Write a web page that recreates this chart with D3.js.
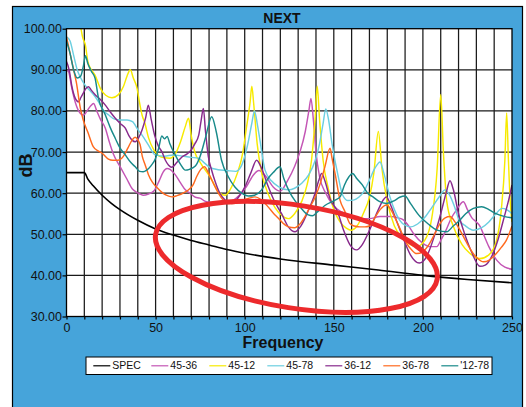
<!DOCTYPE html>
<html>
<head>
<meta charset="utf-8">
<script src="https://cdn.jsdelivr.net/npm/d3@7"></script>
<style>
  html, body { margin: 0; padding: 0; background: #fff; }
  svg { display: block; font-family: Arial, "Liberation Sans", Helvetica, sans-serif; }
</style>
</head>
<body>
<svg id="chart" width="526" height="407"></svg>
<script>
// values, [frequency, dB]
const spec = [[0,65],[10,65],[12,63.4],[15,61.8],[20,59.5],[25,57.6],[30,56],[40,53.4],[50,51.3],[60,49.8],[70,48.5],[80,47.4],[90,46.3],[100,45.4],[120,44],[150,42.5],[175,41.3],[200,40],[225,39],[250,38.2]]

const s4536 = [[0,90],[1.2,89.5],[3,85.5],[5,82],[7.8,79.4],[9.6,79],[11.5,80],[13.5,81.2],[15.2,81.8],[17,80],[19,78],[21.8,75.8],[24,72.5],[26.3,69.5],[30,66.5],[33.8,63.5],[37,61],[39.4,60.2],[41.2,59.8],[43.1,59.5],[46,59.8],[49,60.5],[52,63],[54.3,65.2],[56.4,66],[58.1,65.8],[61,64.5],[64,62.5],[66.7,60.8],[69.3,60],[72.3,59],[74.9,58.8],[78,58],[82.4,57.7],[85,57.4],[89,57.7],[93.6,58.3],[97,59.5],[101,61.6],[105,64.5],[108,65.5],[112,64],[116,61.5],[120,60.5],[124,63],[128,66.5],[131,70],[134,75],[136,80],[137.2,83],[138.5,78],[140,70],[142,64],[145.5,60],[149.7,57],[154,55.5],[157,55],[161,54],[165,53.8],[170,53.8],[176,54.3],[181.5,54.3],[186,54],[189,53.5],[192,52],[195,50],[200,47.8],[204,47],[207.8,47],[210,48.5],[213,51],[216,54],[219,56],[222.7,57.9],[225,56],[227.5,54],[230,53],[232,52],[234,50],[237,47],[241.4,43.7],[246,42],[250,41.5]]

const s4512 = [[0,112],[4,108],[7,103],[9,98],[10.6,96],[12,92],[14,90],[16,88.7],[19,85.5],[22,83.8],[25.5,83.2],[29,83.9],[32,86],[34,88.5],[35.8,90],[37.5,88],[39.6,85.5],[41,82],[42.4,79],[44,77],[46,73.5],[49,70.5],[52,69],[55,68.6],[58,68.5],[61,69.5],[64,72.5],[66.5,76],[68.5,78.2],[70,74],[72,70],[75,67.5],[80.5,64],[86,60],[89,59.5],[92,61],[96,65],[99,70],[101,76],[103,82],[104,86],[105,82],[107,72],[109.5,65],[113,60],[117,56.5],[121,54.5],[124.5,53.8],[128,55],[132,58],[135,62],[137.5,68],[139.5,78],[140.7,86],[142,78],[144,68],[147,61],[150,56],[153.5,53],[157,51.5],[160,51],[163,52],[167,55.5],[170,59],[172.5,65],[175,75],[177,66],[180,58],[184,52],[189,49],[196.5,47],[201,48.5],[205,54],[208,66],[210,84],[211.5,70],[213.4,58],[217,52],[222,47.5],[226,45.5],[232,44.1],[237,45],[241,48],[244,56],[246,68],[247,79.5],[248,68],[249,58],[250,53]]

const s4578 = [[0,98],[2,97],[4,93.5],[6,90],[8,88],[10,86.5],[13,85],[16,83.5],[18,82.2],[21,80],[23.7,79],[27,78],[30,77.8],[34,77.8],[37,77.4],[40,75.5],[42.4,74.1],[46,71.7],[49.8,69.3],[55,69],[60,69.3],[65,69],[70,68.7],[74,68.5],[77,67.5],[80,66.4],[85,65.7],[90,65.5],[95,65.3],[98,66.5],[100,68.9],[102,72.5],[104,77],[105.5,80],[107,77],[108.6,72.8],[111.4,65.6],[115,63],[118.9,61.6],[124.5,60.8],[128,61.2],[132,62.4],[136,64.5],[139.5,67.9],[142,72],[144,77],[145.5,80.5],[147,78],[149,72],[152.5,64],[155,59.5],[158,58.2],[161,58.3],[164,59],[167,60.5],[170,63.2],[173,66],[176,67.6],[178,65],[181.5,59.1],[184,56],[187,53.4],[190,52.2],[193,51.8],[197,52.5],[201.6,54.4],[205,56.5],[209,59],[212.4,60.8],[215,59.5],[217.5,57],[220.4,53.4],[224,52],[228.3,51],[233,51.6],[237,53],[241,55],[244.5,56.3],[247,56],[250,55]]

const s3612 = [[0,92],[1.5,90],[3,86],[5,83],[6.8,82.2],[8,83.2],[9.5,84.4],[11,85.5],[12.4,85.9],[14,85],[16.2,83.9],[19,82.8],[21.8,81.4],[24.5,79.8],[27.4,78.2],[30,77],[33,75.8],[35,74],[36.8,72.9],[38.6,72.5],[40.5,73.5],[42.5,75.5],[44.5,78.5],[45.9,81.4],[47.5,78],[49.5,74],[51.5,71.5],[53.6,70],[55.5,68],[57.3,66.8],[59,66.3],[62,67.5],[64.8,68.8],[67.5,69.5],[70,70.5],[72,72],[74.2,74.1],[75.5,77.5],[76.8,80.6],[78,75],[79.6,68.9],[81.5,65.5],[83.5,62.7],[86,60],[89,58.3],[92.8,57.5],[96.5,59],[100.2,61.6],[103.5,65],[106.7,68],[109.5,66],[113.2,61.6],[116.5,58.2],[120.7,55],[124.5,51.8],[128.2,50.6],[131.5,52],[135.8,55.9],[139.5,60],[141.5,63],[143.2,64.8],[145,63],[148,58.5],[152,55.6],[155.5,51],[159,47.5],[162.8,46.2],[166,47.5],[169,50],[172,53],[175,56],[178,58.5],[179.5,59.1],[182,57],[185,53.5],[189,49],[193,45],[198,43],[202,44.5],[206,49],[210,55],[213,60],[215.2,63],[217,61],[220,55],[223.5,50],[227.5,45.5],[232,42.2],[235,42.5],[238.5,44.5],[242,48.5],[245.5,54],[248.5,59],[250,62]]

const s3678 = [[0,98],[2,94],[4,90],[5.5,87],[7.8,80.6],[9.4,77.8],[12,74.8],[15,71.3],[18,70.2],[20,69.7],[23.5,68.3],[26,68],[28.8,68],[32,69],[34.5,71],[36.8,72.9],[38.5,73.6],[40,73],[41.3,71.8],[42.5,69],[44.2,66.8],[46,64.5],[48,62.8],[50.5,61.5],[53.6,60.2],[56,59.5],[59.2,59.1],[62,59.4],[64.5,59.8],[66.7,60.3],[69,61],[71,62],[73,64],[75.8,66],[77.5,66.4],[79,65.5],[81.5,63.2],[85.2,60],[88,58.3],[90.8,57.5],[94,57.5],[98.3,58.2],[102,58.7],[105.8,59.1],[109,58.5],[113.3,56.6],[116,55.2],[118.9,53.9],[121.5,52.7],[124.5,51.8],[128,51.6],[131,52.5],[133.8,54.3],[136.5,56.5],[139.5,59],[142.5,62.5],[145,66.4],[147.9,70.9],[149,68.5],[150.7,64.8],[153.5,58.3],[156.3,55.5],[159,52.6],[161.5,52],[164.5,51.8],[167.5,51.8],[170,52],[173,54],[176,56],[179.7,57.1],[182,56],[185,53.4],[188,50.5],[190.9,47.8],[193.5,46.3],[196.5,45.3],[200,45.8],[203.8,47.8],[206.5,50],[209.6,52.6],[212.5,54],[215.2,54.3],[218,53],[220.8,51],[224.5,48],[228.3,45.3],[231,44],[234,43.3],[237.5,43.8],[241.2,45.3],[244,46.8],[246.8,48.5],[250,52]]

const s1278 = [[0,97],[2,94],[4,90],[6,88],[8,88.5],[9.5,91],[10.6,93.4],[12,91.5],[14,89.6],[16,88],[18,83],[21.8,79],[24.5,76],[27.4,73.3],[30,71],[33,69.3],[36,67.5],[38.6,66.4],[41,65.3],[43,65.2],[45,65.6],[47.5,66.7],[50,68.5],[51.7,70.9],[53.5,73.9],[55,73.2],[56.5,73.8],[58,72],[61,69.3],[64,67],[66.7,65.6],[69,65.8],[72.3,66.6],[75,69],[78,73.5],[81.5,78.6],[84,75],[87,68],[90.8,64],[94.5,61.5],[98.3,60],[102,59.3],[105.5,59.5],[109.5,60.8],[113,63.5],[116,65],[119.8,66.4],[122,63.5],[125.5,60],[128.5,58],[131,56.7],[135.7,54.7],[138,54.5],[141,55.5],[145,57],[150.7,58.3],[153.5,59.1],[156,62],[158.5,64],[160.5,64.8],[163,63.5],[166,62],[169,60],[172,59.1],[175.5,58],[179.5,57.5],[184,58.2],[187,59],[190,59.3],[193,57.5],[198.4,54.3],[203,52.5],[208,51],[213.4,50.6],[217,52],[220.4,53.3],[224,55],[228.3,56.3],[233,56.7],[237,56],[241,55],[246,54.3],[250,54]]

const seriesNames = ['SPEC', '45-36', '45-12', '45-78', '36-12', '36-78', "'12-78"]
const seriesValues = [spec, s4536, s4512, s4578, s3612, s3678, s1278]
const seriesColors = ['#000000', '#c455b5', '#f7ea00', '#6ccfe0', '#882a8c', '#ff6a1f', '#188a8a']

const xTicks = [0, 50, 100, 150, 200, 250]
const yTicks = [30, 40, 50, 60, 70, 80, 90, 100]

// the red highlight ellipse, in data units
const ellipseCenter = [129, 44.5]
const ellipseHalfSize = [80, 12.5]

const svg = d3.select('#chart')

const plot = {left: 66.5, right: 512, top: 28.7, bottom: 316.5}
const x = d3.scaleLinear().domain([0, 250]).range([plot.left, plot.right])
const y = d3.scaleLinear().domain([30, 100]).range([plot.bottom, plot.top])

// blue panel
svg.append('rect')
    .attr('x', 12.5).attr('y', 6.5)
    .attr('width', 510).attr('height', 420)
    .attr('fill', '#46a4da')
    .attr('stroke', '#000').attr('stroke-width', 1.2)

svg.append('rect')
    .attr('x', plot.left).attr('y', plot.top)
    .attr('width', plot.right - plot.left).attr('height', plot.bottom - plot.top)
    .attr('fill', '#fff')

// grid
svg.append('g').selectAll('line')
    .data(d3.range(10, 250, 10))
    .enter().append('line')
    .attr('x1', d => x(d)).attr('x2', d => x(d))
    .attr('y1', plot.top).attr('y2', plot.bottom)
    .attr('stroke', '#1a1a1a').attr('stroke-width', 1.25)

svg.append('g').selectAll('line')
    .data(d3.range(40, 100, 10))
    .enter().append('line')
    .attr('x1', plot.left).attr('x2', plot.right)
    .attr('y1', d => y(d)).attr('y2', d => y(d))
    .attr('stroke', '#1a1a1a').attr('stroke-width', 1.25)

// axes
svg.append('g')
    .attr('transform', `translate(${plot.left},0)`)
    .call(d3.axisLeft(y).tickValues(yTicks).tickFormat(d3.format('.2f')).tickSize(4).tickPadding(0.5))
svg.append('g')
    .attr('transform', `translate(0,${plot.bottom})`)
    .call(d3.axisBottom(x).tickValues(d3.range(0, 251, 10))
        .tickFormat(d => xTicks.includes(d) ? d : '').tickSize(3).tickPadding(4))
svg.selectAll('.domain').remove()
svg.selectAll('.tick line').attr('stroke', '#000').attr('stroke-width', 1.2)
svg.selectAll('.tick text')
    .attr('fill', '#111')
    .style('font-size', '12.5px')
    .style('font-family', 'Arial, "Liberation Sans", sans-serif')

// series
svg.append('clipPath').attr('id', 'clip')
  .append('rect')
    .attr('x', plot.left).attr('y', plot.top)
    .attr('width', plot.right - plot.left).attr('height', plot.bottom - plot.top)

const line = d3.line()
    .x(d => x(d[0]))
    .y(d => y(d[1]))
    .curve(d3.curveMonotoneX)

svg.append('g')
    .attr('clip-path', 'url(#clip)')
  .selectAll('path')
  .data(seriesValues)
  .enter().append('path')
    .attr('d', line)
    .attr('fill', 'none')
    .attr('stroke', (d, i) => seriesColors[i])
    .attr('stroke-width', (d, i) => i === 0 ? 1.6 : 1.45)
    .attr('stroke-linejoin', 'round')

// plot border
svg.append('rect')
    .attr('x', plot.left).attr('y', plot.top)
    .attr('width', plot.right - plot.left).attr('height', plot.bottom - plot.top)
    .attr('fill', 'none')
    .attr('stroke', '#000').attr('stroke-width', 1.3)

// red highlight
const cx = x(ellipseCenter[0]), cy = y(ellipseCenter[1])
svg.append('ellipse')
    .attr('cx', cx).attr('cy', cy)
    .attr('rx', x(ellipseCenter[0] + ellipseHalfSize[0]) - cx)
    .attr('ry', y(ellipseCenter[1] - ellipseHalfSize[1]) - cy)
    .attr('transform', `rotate(9,${cx},${cy})`)
    .attr('fill', 'none')
    .attr('stroke', '#ed2a2c')
    .attr('stroke-width', 5)

// titles
svg.append('text')
    .attr('x', 282).attr('y', 23)
    .attr('text-anchor', 'middle')
    .style('font-size', '14px').style('font-weight', 'bold')
    .attr('fill', '#111')
    .text('NEXT')

svg.append('text')
    .attr('x', 283).attr('y', 347.5)
    .attr('text-anchor', 'middle')
    .style('font-size', '16px').style('font-weight', 'bold')
    .attr('fill', '#111')
    .text('Frequency')

svg.append('text')
    .attr('transform', 'translate(32,165.5) rotate(-90)')
    .attr('text-anchor', 'middle')
    .style('font-size', '18px').style('font-weight', 'bold')
    .attr('fill', '#111')
    .text('dB')

// legend
const legend = svg.append('g')
legend.append('rect')
    .attr('x', 86).attr('y', 357)
    .attr('width', 406).attr('height', 17.5)
    .attr('fill', '#fff')
    .attr('stroke', '#000').attr('stroke-width', 1)

const item = legend.selectAll('g.item')
    .data(seriesNames)
    .enter().append('g')
    .attr('class', 'item')
    .attr('transform', (d, i) => `translate(${93.3 + i * 58},365.8)`)
item.append('line')
    .attr('x1', 0).attr('x2', 17)
    .attr('stroke', (d, i) => seriesColors[i])
    .attr('stroke-width', 1.2)
item.append('text')
    .attr('x', 19).attr('dy', '0.35em')
    .style('font-size', '10.5px')
    .attr('fill', '#111')
    .text(d => d)
</script>
</body>
</html>
